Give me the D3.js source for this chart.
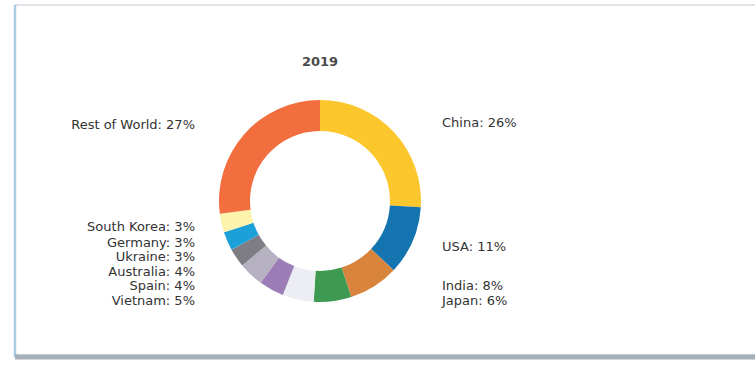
<!DOCTYPE html>
<html>
<head>
<meta charset="utf-8">
<script src="https://cdn.jsdelivr.net/npm/d3@7/dist/d3.min.js"></script>
<style>
  html, body { margin: 0; padding: 0; background: #ffffff; }
  svg { display: block; }
  text { font-family: "DejaVu Sans", Verdana, sans-serif; fill: #333333; }
</style>
</head>
<body>
<svg id="chart" width="755" height="369"></svg>
<script>
// Production share by country, 2019 (percent)
const title = "2019";
const countries = ["China", "USA", "India", "Japan", "Vietnam", "Spain",
                   "Australia", "Ukraine", "Germany", "South Korea", "Rest of World"];
const shares    = [26, 11, 8, 6, 5, 4, 4, 3, 3, 3, 27];
const colors    = ["#fcc72c", "#1474b0", "#d9843d", "#3f9a51", "#eceef4", "#9d7db7",
                   "#b6b1c1", "#7d7d83", "#1ba1d8", "#fdf3ad", "#f36e3e"];

const W = 755, H = 369;
const svg = d3.select("#chart");

// panel frame
svg.append("rect").attr("x", 15).attr("y", 5).attr("width", W).attr("height", 350)
  .attr("fill", "#ffffff").attr("stroke", "#d6dbe1").attr("stroke-width", 1.5);
svg.append("line").attr("x1", 15).attr("x2", 15).attr("y1", 5).attr("y2", 357)
  .attr("stroke", "#a9cbe3").attr("stroke-width", 2.5);
svg.append("line").attr("x1", 15).attr("x2", W).attr("y1", 357).attr("y2", 357)
  .attr("stroke", "#a7afba").attr("stroke-width", 5);

const cx = 320, cy = 201, R = 101, r = 70;
const g = svg.append("g").attr("transform", `translate(${cx},${cy})`);

const data = countries.map((c, i) => ({ name: c, value: shares[i], color: colors[i] }));
const pie = d3.pie().value(d => d.value).sort(null);
const arcs = pie(data);
const arc = d3.arc().innerRadius(r).outerRadius(R);

g.selectAll("path.slice").data(arcs).join("path")
  .attr("class", "slice")
  .attr("d", arc)
  .attr("fill", d => d.data.color);

// title
svg.append("text").attr("x", cx).attr("y", 66)
  .attr("text-anchor", "middle").attr("font-size", 13).attr("font-weight", "bold")
  .style("fill", "#4a4a4a").text(title);

// outside labels: start from the slice mid-angle, then push apart vertically
const labelR = 115, gap = 14.5, maxY = cy + 99, labelDX = 122;
const labels = arcs.map(a => {
  const mid = (a.startAngle + a.endAngle) / 2;
  return {
    text: `${a.data.name}: ${a.data.value}%`,
    right: mid < Math.PI,
    y: cy - labelR * Math.cos(mid)
  };
});
["right", "left"].forEach(side => {
  const grp = labels.filter(l => (side === "right") === l.right)
    .sort((a, b) => b.y - a.y);
  let limit = maxY;
  grp.forEach(l => {
    l.y = Math.min(l.y, limit);
    limit = l.y - gap;
  });
});

svg.selectAll("text.lbl").data(labels).join("text")
  .attr("class", "lbl")
  .attr("x", d => d.right ? cx + labelDX : cx - labelDX - 3)
  .attr("y", d => d.y)
  .attr("dy", "0.35em")
  .attr("text-anchor", d => d.right ? "start" : "end")
  .attr("font-size", 13)
  .text(d => d.text);
</script>
</body>
</html>
